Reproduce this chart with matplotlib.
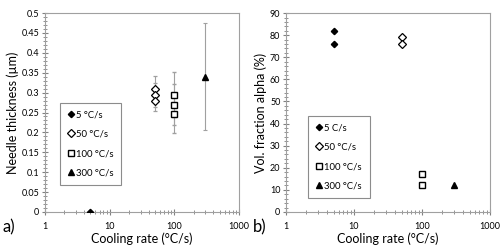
import matplotlib
matplotlib.use('Agg')
import matplotlib.pyplot as plt
from matplotlib.ticker import MultipleLocator, LogLocator, NullFormatter, FixedLocator, FixedFormatter

plt.rcParams['font.family'] = ['Lato', 'DejaVu Sans']

# needle thickness (um), with error bars
rate_5, thick_5, err_5 = [5], [0.0], [0.0]
rate_50, thick_50, err_50 = [50, 50, 50], [0.31, 0.295, 0.28], [0.032, 0.03, 0.027]
rate_100, thick_100, err_100 = [100, 100, 100], [0.295, 0.27, 0.245], [0.057, 0.052, 0.047]
rate_300, thick_300, err_300 = [300], [0.34], [0.135]

# volume fraction alpha (%)
frac_5 = [82, 76]
frac_50 = [79, 76]
frac_100 = [17, 12]
frac_300 = [12]

labels_a = ['5 °C/s', '50 °C/s', '100 °C/s', '300 °C/s']
labels_b = ['5 C/s', '50 °C/s', '100 °C/s', '300 °C/s']

styles = [dict(marker='D', mfc='black', mec='black', ms=3.2),
          dict(marker='D', mfc='white', mec='black', ms=3.6, mew=0.9),
          dict(marker='s', mfc='white', mec='black', ms=4.6, mew=1),
          dict(marker='^', mfc='black', mec='black', ms=4.8)]

fig = plt.figure(figsize=(5, 2.47), dpi=100)
ax1 = fig.add_axes([0.09, 0.142, 0.388, 0.805])
ax2 = fig.add_axes([0.572, 0.142, 0.408, 0.805])

def style_axis(ax):
    ax.set_xscale('log')
    ax.set_xlim(1, 1000)
    ax.xaxis.set_major_locator(FixedLocator([1, 10, 100, 1000]))
    ax.xaxis.set_major_formatter(FixedFormatter(['1', '10', '100', '1000']))
    ax.xaxis.set_minor_locator(LogLocator(base=10, subs=range(2, 10)))
    ax.xaxis.set_minor_formatter(NullFormatter())
    for s in ax.spines.values():
        s.set_color('#a0a0a0')
        s.set_linewidth(0.8)
    ax.tick_params(which='both', direction='inout', color='#808080', labelsize=6.5, pad=2)
    ax.tick_params(which='major', length=4)
    ax.tick_params(which='minor', length=2.5)
    ax.tick_params(axis='x', pad=5)
    ax.set_xlabel('Cooling rate (°C/s)', fontsize=9, labelpad=1)

legend_kw = dict(loc='lower left', fontsize=6.8, frameon=True, fancybox=False,
                 edgecolor='#707070', labelspacing=1.1, handlelength=0.7,
                 handletextpad=0.2, borderpad=0.8, borderaxespad=0)

# panel a
data_a = [(rate_5, thick_5, err_5), (rate_50, thick_50, err_50),
          (rate_100, thick_100, err_100), (rate_300, thick_300, err_300)]
for (x, y, e), st, lab in zip(data_a, styles, labels_a):
    ax1.errorbar(x, y, yerr=e, ls='none', ecolor='#a0a0a0', elinewidth=0.8,
                 capsize=1.5, capthick=0.8, label=lab, zorder=3, **st)
style_axis(ax1)
ax1.set_ylim(0, 0.5)
ax1.yaxis.set_major_locator(MultipleLocator(0.05))
ax1.yaxis.set_minor_locator(MultipleLocator(0.01))
ax1.set_yticklabels([f'{v:g}' for v in ax1.get_yticks()])
ax1.set_ylabel('Needle thickness (µm)', fontsize=9, labelpad=2)
h, l = ax1.get_legend_handles_labels()
h = [hh[0] for hh in h]
leg1 = ax1.legend(h, l, bbox_to_anchor=(0.077, 0.135), **legend_kw)
leg1.get_frame().set_linewidth(0.8)
fig.text(0.005, 0.06, 'a)', fontsize=12)

# panel b
data_b = [([5, 5], frac_5), ([50, 50], frac_50), ([100, 100], frac_100), ([300], frac_300)]
for (x, y), st, lab in zip(data_b, styles, labels_b):
    ax2.plot(x, y, ls='none', label=lab, zorder=3, **st)
style_axis(ax2)
ax2.set_ylim(0, 90)
ax2.yaxis.set_major_locator(MultipleLocator(10))
ax2.yaxis.set_minor_locator(MultipleLocator(2))
ax2.set_ylabel('Vol. fraction alpha (%)', fontsize=9, labelpad=2)
leg2 = ax2.legend(bbox_to_anchor=(0.11, 0.07), **legend_kw)
leg2.get_frame().set_linewidth(0.8)
fig.text(0.505, 0.06, 'b)', fontsize=12)

fig.savefig('out.png', dpi=100)
